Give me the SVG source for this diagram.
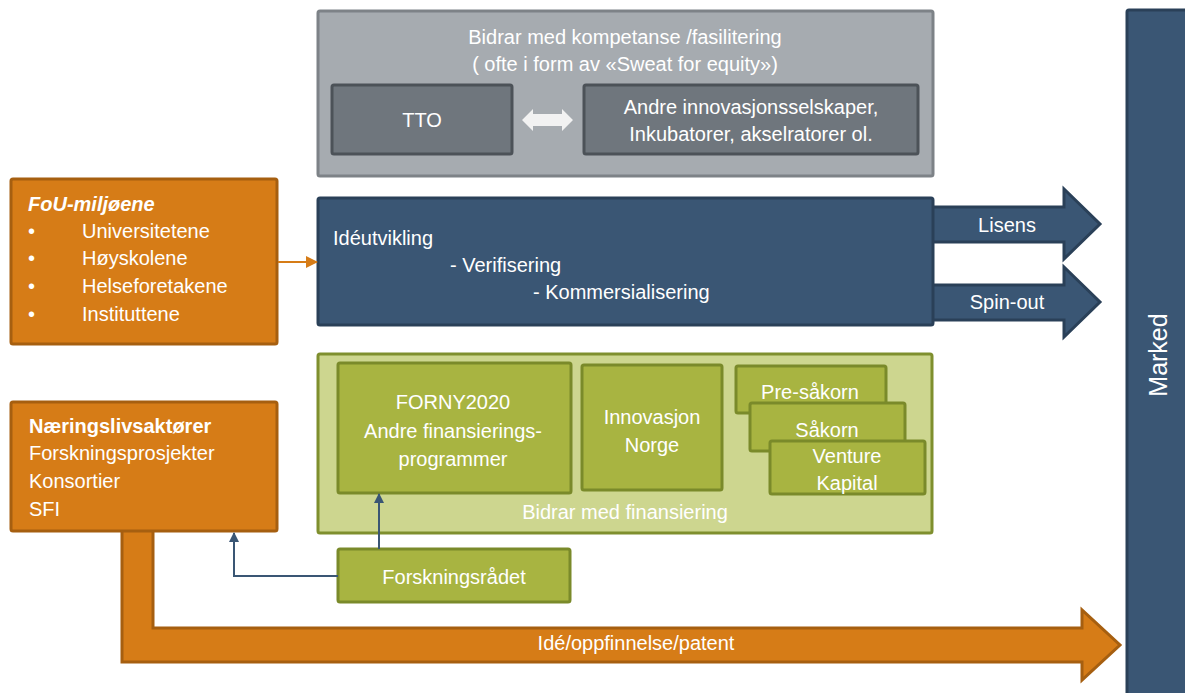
<svg xmlns="http://www.w3.org/2000/svg" width="1185" height="693" viewBox="0 0 1185 693">
<defs>
<style>
text{font-family:"Liberation Sans",Arial,sans-serif;fill:#ffffff;font-size:20px}
.c{text-anchor:middle}
.gray{fill:#a6abb0;stroke:#7d8287;stroke-width:3}
.dgray{fill:#6f767d;stroke:#4c5258;stroke-width:3}
.orange{fill:#d67c17;stroke:#a65f10;stroke-width:3}
.blue{fill:#3a5674;stroke:#2a4058;stroke-width:3}
.lgreen{fill:#cdd68f;stroke:#7f8f2e;stroke-width:3}
.green{fill:#a8b441;stroke:#7a8a2a;stroke-width:3}
.conn{fill:none;stroke:#3a5674;stroke-width:2}
</style>
<marker id="ab" markerWidth="10" markerHeight="10" refX="9" refY="5" orient="auto" markerUnits="userSpaceOnUse"><path d="M0,0 L10,5 L0,10 Z" fill="#3a5674"/></marker>
<marker id="ao" markerWidth="12" markerHeight="12" refX="11" refY="6" orient="auto" markerUnits="userSpaceOnUse"><path d="M0,0 L12,6 L0,12 Z" fill="#d67c17"/></marker>
</defs>

<g id="marked">
<rect class="blue" x="1127" y="10" width="62" height="690" rx="2"/>
<text class="c" transform="translate(1167,355) rotate(-90)" style="font-size:25px">Marked</text>
</g>

<g id="arrow-lisens">
<polygon class="blue" points="930,207 1064,207 1064,189 1100,224 1064,259 1064,242 930,242"/>
<text class="c" x="1007" y="232">Lisens</text>
</g>
<g id="arrow-spinout">
<polygon class="blue" points="930,285 1064,285 1064,267 1100,302 1064,337 1064,320 930,320"/>
<text class="c" x="1007" y="309">Spin-out</text>
</g>

<g id="arrow-ide">
<path class="orange" d="M122,529 L153,529 L153,628 L1082,628 L1082,610 L1120,645 L1082,680 L1082,662 L122,662 Z"/>
<text class="c" x="636" y="650">Idé/oppfinnelse/patent</text>
</g>

<g id="kompetanse">
<rect class="gray" x="318" y="11" width="615" height="165" rx="2"/>
<text class="c" x="625" y="44">Bidrar med kompetanse /fasilitering</text>
<text class="c" x="625" y="71">( ofte i form av «Sweat for equity»)</text>
</g>
<g id="tto">
<rect class="dgray" x="332" y="85" width="180" height="69" rx="2"/>
<text class="c" x="422" y="127">TTO</text>
</g>
<g id="andre">
<rect class="dgray" x="584" y="85" width="334" height="69" rx="2"/>
<text class="c" x="751" y="114">Andre innovasjonsselskaper,</text>
<text class="c" x="751" y="141">Inkubatorer, akselratorer ol.</text>
</g>
<g id="dobbelpil">
<polygon points="522,120 533,109 533,114 562,114 562,109 573,120 562,131 562,126 533,126 533,131" fill="#f2f2f2"/>
</g>

<g id="fou">
<rect class="orange" x="11" y="179" width="266" height="165" rx="2"/>
<text x="28" y="211" style="font-weight:bold;font-style:italic">FoU-miljøene</text>
<text x="28" y="238">•</text><text x="82" y="238">Universitetene</text>
<text x="28" y="265">•</text><text x="82" y="265">Høyskolene</text>
<text x="28" y="293">•</text><text x="82" y="293">Helseforetakene</text>
<text x="28" y="321">•</text><text x="82" y="321">Instituttene</text>
</g>

<g id="ideutvikling">
<rect class="blue" x="318" y="198" width="615" height="127" rx="2"/>
<text x="333" y="245">Idéutvikling</text>
<text x="450" y="272">- Verifisering</text>
<text x="533" y="299">- Kommersialisering</text>
</g>

<g id="finansiering">
<rect class="lgreen" x="318" y="354" width="614" height="179" rx="2"/>
<text class="c" x="625" y="519">Bidrar med finansiering</text>
</g>
<g id="forny">
<rect class="green" x="338" y="363" width="233" height="130" rx="2"/>
<text class="c" x="453" y="409">FORNY2020</text>
<text class="c" x="453" y="438">Andre finansierings-</text>
<text class="c" x="453" y="466">programmer</text>
</g>
<g id="innovasjon">
<rect class="green" x="582" y="365" width="140" height="125" rx="2"/>
<text class="c" x="652" y="424">Innovasjon</text>
<text class="c" x="652" y="452">Norge</text>
</g>
<g id="presakorn">
<rect class="green" x="736" y="366" width="150" height="47" rx="2"/>
<text class="c" x="810" y="399">Pre-såkorn</text>
</g>
<g id="sakorn">
<rect class="green" x="750" y="403" width="155" height="48" rx="2"/>
<text class="c" x="827" y="437">Såkorn</text>
</g>
<g id="venture">
<rect class="green" x="770" y="441" width="155" height="53" rx="2"/>
<text class="c" x="847" y="463">Venture</text>
<text class="c" x="847" y="490">Kapital</text>
</g>

<g id="naeringsliv">
<rect class="orange" x="11" y="402" width="266" height="129" rx="2"/>
<text x="29" y="433" style="font-weight:bold">Næringslivsaktører</text>
<text x="29" y="460">Forskningsprosjekter</text>
<text x="29" y="488">Konsortier</text>
<text x="29" y="516">SFI</text>
</g>

<g id="forskningsradet">
<rect class="green" x="338" y="549" width="232" height="53" rx="2"/>
<text class="c" x="454" y="584">Forskningsrådet</text>
</g>

<g id="connectors">
<line x1="278" y1="262" x2="317" y2="262" stroke="#d67c17" stroke-width="2" marker-end="url(#ao)"/>
<line class="conn" x1="379" y1="549" x2="379" y2="494" marker-end="url(#ab)"/>
<polyline class="conn" points="338,576 234,576 234,533" marker-end="url(#ab)"/>
</g>
</svg>
